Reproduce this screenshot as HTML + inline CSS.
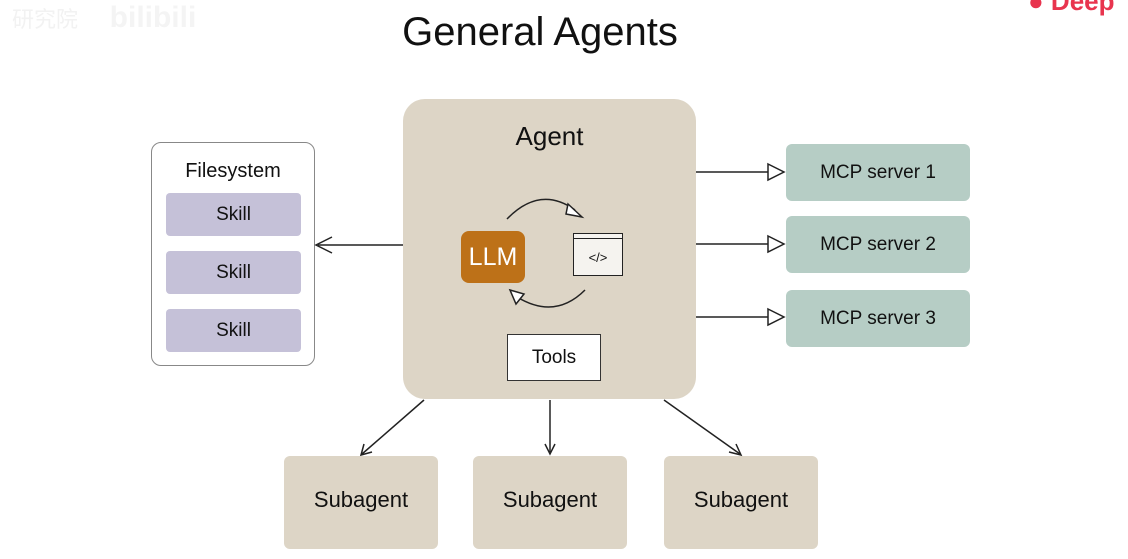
<!DOCTYPE html>
<html><head><meta charset="utf-8"><style>
html,body{margin:0;padding:0;background:#fff;}
body{width:1128px;height:559px;position:relative;overflow:hidden;font-family:"Liberation Sans",sans-serif;color:#111;}
.a{position:absolute;box-sizing:border-box;display:flex;align-items:center;justify-content:center;}
</style></head><body>
<div class="a" style="left:340px;top:6px;width:400px;height:52px;font-size:40px;">General Agents</div>
<div class="a" style="left:0;top:0;width:90px;height:36px;font-size:22px;color:#f2f2f2;font-family:'Liberation Sans','Noto Sans CJK SC',sans-serif;">研究院</div>
<div class="a" style="left:98px;top:0;width:110px;height:36px;font-size:30px;color:#f4f4f4;font-weight:bold;">bilibili</div>
<div class="a" style="left:1028px;top:-14px;width:110px;height:30px;font-size:26px;color:#e8344e;font-weight:bold;justify-content:flex-start;">● Deep</div>

<div class="a" style="left:403px;top:99px;width:293px;height:300px;background:#ddd5c6;border-radius:22px;align-items:flex-start;padding-top:22px;font-size:26px;">Agent</div>
<div class="a" style="left:461px;top:231px;width:64px;height:52px;background:#bd7118;border-radius:8px;color:#fff;font-size:25px;">LLM</div>
<div class="a" style="left:573px;top:233px;width:50px;height:43px;background:#f5f3ef;border:1.5px solid #222;font-size:13px;padding-top:6px;">&lt;/&gt;</div>
<div style="position:absolute;left:573px;top:238px;width:50px;border-top:1.5px solid #222;"></div>
<div class="a" style="left:507px;top:334px;width:94px;height:47px;background:#fff;border:1px solid #333;font-size:19px;">Tools</div>

<div class="a" style="left:151px;top:142px;width:164px;height:224px;border:1px solid #888;border-radius:10px;background:#fff;align-items:flex-start;padding-top:17px;font-size:20px;">Filesystem</div>
<div class="a" style="left:166px;top:193px;width:135px;height:43px;background:#c5c1d8;border-radius:4px;font-size:19px;">Skill</div>
<div class="a" style="left:166px;top:251px;width:135px;height:43px;background:#c5c1d8;border-radius:4px;font-size:19px;">Skill</div>
<div class="a" style="left:166px;top:309px;width:135px;height:43px;background:#c5c1d8;border-radius:4px;font-size:19px;">Skill</div>

<div class="a" style="left:786px;top:144px;width:184px;height:57px;background:#b6cdc5;border-radius:6px;font-size:19px;">MCP server 1</div>
<div class="a" style="left:786px;top:216px;width:184px;height:57px;background:#b6cdc5;border-radius:6px;font-size:19px;">MCP server 2</div>
<div class="a" style="left:786px;top:290px;width:184px;height:57px;background:#b6cdc5;border-radius:6px;font-size:19px;">MCP server 3</div>

<div class="a" style="left:284px;top:456px;width:154px;height:93px;background:#ddd5c6;border-radius:6px;font-size:22px;padding-bottom:6px;">Subagent</div>
<div class="a" style="left:473px;top:456px;width:154px;height:93px;background:#ddd5c6;border-radius:6px;font-size:22px;padding-bottom:6px;">Subagent</div>
<div class="a" style="left:664px;top:456px;width:154px;height:93px;background:#ddd5c6;border-radius:6px;font-size:22px;padding-bottom:6px;">Subagent</div>

<svg width="1128" height="559" style="position:absolute;left:0;top:0" fill="none" stroke="#222" stroke-width="1.5">
<line x1="403" y1="245" x2="318" y2="245"/><polyline points="332,237 316,245 332,253"/>
<line x1="696" y1="172" x2="782" y2="172"/><polygon points="768,164 784,172 768,180" fill="#fff"/>
<line x1="696" y1="244" x2="782" y2="244"/><polygon points="768,236 784,244 768,252" fill="#fff"/>
<line x1="696" y1="317" x2="782" y2="317"/><polygon points="768,309 784,317 768,325" fill="#fff"/>
<line x1="424" y1="400" x2="362" y2="454"/><polyline points="364,444 361,455 372,452"/>
<line x1="550" y1="400" x2="550" y2="452"/><polyline points="545,444 550,454 555,444"/>
<line x1="664" y1="400" x2="740" y2="454"/><polyline points="729,452 741,455 736,444"/>
<path d="M507,219 Q540,185 575,210"/><polygon points="568,204 582,217 566,214" fill="#fff"/>
<path d="M585,290 Q555,320 517,297"/><polygon points="510,290 524,294 516,304" fill="#fff"/>
</svg>
</body></html>
